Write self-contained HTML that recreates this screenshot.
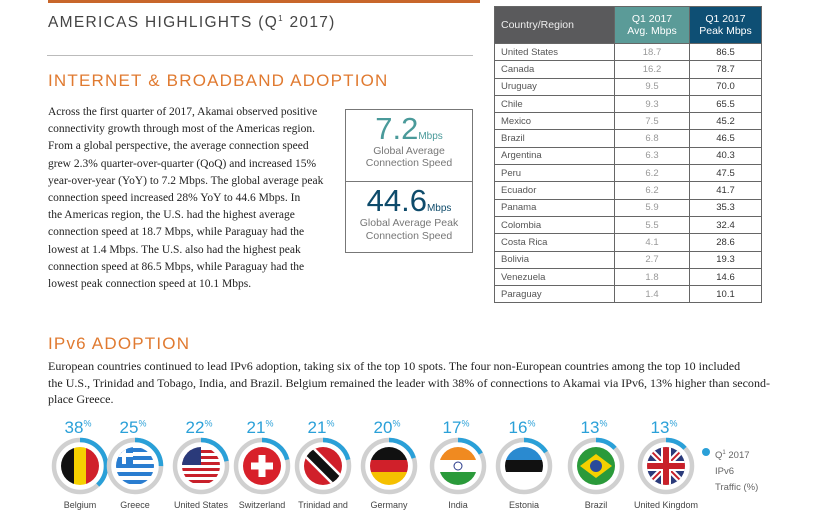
<!DOCTYPE html><html><head><style>
body{margin:0;width:815px;height:511px;overflow:hidden;background:#fff;font-family:"Liberation Sans",sans-serif;position:relative}
.a{position:absolute}
.body{font-family:"Liberation Serif",serif;font-size:11.5px;line-height:17.2px;color:#222;white-space:nowrap}
table{border-collapse:collapse;font-size:9.5px}
td{border:1px solid #666;height:16.3px;padding:0 6px;color:#555}
td.n{text-align:center;color:#999}td.p{text-align:center;color:#333}
.pct{font-size:17px;color:#2aa0d8;text-align:center;width:60px}
.pct sup{font-size:9px}
.lab{font-size:9px;color:#444;width:80px;text-align:center;font-family:"Liberation Sans Narrow","Liberation Sans",sans-serif}
</style></head><body>
<div class="a" style="left:48px;top:0;width:432px;height:3px;background:#c8662a"></div>
<div class="a" style="left:48px;top:14px;font-size:15.5px;letter-spacing:1.3px;color:#444">AMERICAS HIGHLIGHTS (Q<sup style="font-size:8px">1</sup> 2017)</div>
<div class="a" style="left:47px;top:55px;width:426px;height:1px;background:#bbb"></div>
<div class="a" style="left:48px;top:71px;font-size:17px;letter-spacing:1.2px;color:#e07a30">INTERNET &amp; BROADBAND ADOPTION</div>
<div class="a body" style="left:48px;top:104px">Across the first quarter of 2017, Akamai observed positive<br>connectivity growth through most of the Americas region.<br>From a global perspective, the average connection speed<br>grew 2.3% quarter-over-quarter (QoQ) and increased 15%<br>year-over-year (YoY) to 7.2 Mbps. The global average peak<br>connection speed increased 28% YoY to 44.6 Mbps. In<br>the Americas region, the U.S. had the highest average<br>connection speed at 18.7 Mbps, while Paraguay had the<br>lowest at 1.4 Mbps. The U.S. also had the highest peak<br>connection speed at 86.5 Mbps, while Paraguay had the<br>lowest peak connection speed at 10.1 Mbps.</div>
<div class="a" style="left:345px;top:109px;width:126px;height:142px;border:1px solid #777"></div>
<div class="a" style="left:345px;top:181px;width:127px;height:1px;background:#777"></div>
<div class="a" style="left:345px;top:113px;width:128px;text-align:center;color:#777;font-size:10.5px;line-height:12px"><span style="font-size:31px;color:#4a9a9a;line-height:32px">7.2</span><span style="color:#4a9a9a;font-size:10px">Mbps</span><br>Global Average<br>Connection Speed</div>
<div class="a" style="left:345px;top:185px;width:128px;text-align:center;color:#777;font-size:10.5px;line-height:12.5px"><span style="font-size:31px;color:#0e4b6b;line-height:32px">44.6</span><span style="color:#0e4b6b;font-size:10px">Mbps</span><br>Global Average Peak<br>Connection Speed</div>
<table class="a" style="left:494px;top:6px;width:268px">
<tr style="height:37px"><td style="background:#5a5a5c;color:#eee;font-size:10.5px;width:107px">Country/Region</td><td style="background:#5b9b98;color:#fff;text-align:center;font-size:10.5px;width:62px">Q1 2017<br>Avg. Mbps</td><td style="background:#0e4f74;color:#fff;text-align:center;font-size:10.5px">Q1 2017<br>Peak Mbps</td></tr>
<tr><td>United States</td><td class="n">18.7</td><td class="p">86.5</td></tr>
<tr><td>Canada</td><td class="n">16.2</td><td class="p">78.7</td></tr>
<tr><td>Uruguay</td><td class="n">9.5</td><td class="p">70.0</td></tr>
<tr><td>Chile</td><td class="n">9.3</td><td class="p">65.5</td></tr>
<tr><td>Mexico</td><td class="n">7.5</td><td class="p">45.2</td></tr>
<tr><td>Brazil</td><td class="n">6.8</td><td class="p">46.5</td></tr>
<tr><td>Argentina</td><td class="n">6.3</td><td class="p">40.3</td></tr>
<tr><td>Peru</td><td class="n">6.2</td><td class="p">47.5</td></tr>
<tr><td>Ecuador</td><td class="n">6.2</td><td class="p">41.7</td></tr>
<tr><td>Panama</td><td class="n">5.9</td><td class="p">35.3</td></tr>
<tr><td>Colombia</td><td class="n">5.5</td><td class="p">32.4</td></tr>
<tr><td>Costa Rica</td><td class="n">4.1</td><td class="p">28.6</td></tr>
<tr><td>Bolivia</td><td class="n">2.7</td><td class="p">19.3</td></tr>
<tr><td>Venezuela</td><td class="n">1.8</td><td class="p">14.6</td></tr>
<tr><td>Paraguay</td><td class="n">1.4</td><td class="p">10.1</td></tr>
</table>
<div class="a" style="left:48px;top:334px;font-size:17px;letter-spacing:1.2px;color:#e07a30">IPv6 ADOPTION</div>
<div class="a body" style="left:48px;top:359px;font-size:11.3px;line-height:16.5px;transform:scaleX(1.065);transform-origin:0 0">European countries continued to lead IPv6 adoption, taking six of the top 10 spots. The four non-European countries among the top 10 included<br>the U.S., Trinidad and Tobago, India, and Brazil. Belgium remained the leader with 38% of connections to Akamai via IPv6, 13% higher than second-<br>place Greece.</div>
<svg class="a" style="left:0;top:0" width="815" height="511">
<defs>
<clipPath id="c"><circle r="19"/></clipPath>
</defs>
<g id="flags"></g>
<circle cx="706" cy="452" r="4" fill="#2aa0d8"/>
</svg>
<div class="a" style="left:715px;top:445px;font-size:9.5px;color:#666;line-height:16px">Q<sup style="font-size:6px">1</sup> 2017<br>IPv6<br>Traffic (%)</div>
<script>
var d=[[80,38,"Belgium"],[135,25,"Greece"],[201,22,"United States"],[262,21,"Switzerland"],[323,21,"Trinidad and"],[389,20,"Germany"],[458,17,"India"],[524,16,"Estonia"],[596,13,"Brazil"],[666,13,"United Kingdom"]];
var flags={
Belgium:'<rect x="-20" y="-20" width="14" height="40" fill="#111"/><rect x="-6" y="-20" width="12" height="40" fill="#f5d000"/><rect x="6" y="-20" width="14" height="40" fill="#d0202a"/>',
Greece:'<rect x="-20" y="-20" width="40" height="40" fill="#fff"/><g fill="#2a7dd0"><rect x="-20" y="-18" width="40" height="4"/><rect x="-20" y="-10" width="40" height="4"/><rect x="-20" y="-2" width="40" height="4"/><rect x="-20" y="6" width="40" height="4"/><rect x="-20" y="14" width="40" height="4"/><rect x="-20" y="-20" width="18" height="18"/></g><rect x="-13" y="-20" width="4" height="18" fill="#fff"/><rect x="-20" y="-13" width="18" height="4" fill="#fff"/>',
"United States":'<rect x="-20" y="-20" width="40" height="40" fill="#fff"/><g fill="#c8202a"><rect x="-20" y="-16" width="40" height="3"/><rect x="-20" y="-10" width="40" height="3"/><rect x="-20" y="-4" width="40" height="3"/><rect x="-20" y="2" width="40" height="3"/><rect x="-20" y="8" width="40" height="3"/><rect x="-20" y="14" width="40" height="3"/></g><rect x="-20" y="-20" width="20" height="19" fill="#2a3a7a"/>',
Switzerland:'<rect x="-20" y="-20" width="40" height="40" fill="#d8202a"/><rect x="-3.5" y="-11" width="7" height="22" fill="#fff"/><rect x="-11" y="-3.5" width="22" height="7" fill="#fff"/>',
"Trinidad and":'<rect x="-20" y="-20" width="40" height="40" fill="#d0202a"/><line x1="-20" y1="-20" x2="20" y2="20" stroke="#fff" stroke-width="14"/><line x1="-20" y1="-20" x2="20" y2="20" stroke="#111" stroke-width="9"/>',
Germany:'<rect x="-20" y="-20" width="40" height="14" fill="#111"/><rect x="-20" y="-6" width="40" height="12" fill="#d0202a"/><rect x="-20" y="6" width="40" height="14" fill="#f5c000"/>',
India:'<rect x="-20" y="-20" width="40" height="14" fill="#f08a20"/><rect x="-20" y="-6" width="40" height="12" fill="#fff"/><rect x="-20" y="6" width="40" height="14" fill="#2a9a3a"/><circle r="4" fill="none" stroke="#2a3a8a"/>',
Estonia:'<rect x="-20" y="-20" width="40" height="14" fill="#2a8ad0"/><rect x="-20" y="-6" width="40" height="12" fill="#111"/><rect x="-20" y="6" width="40" height="14" fill="#fff"/>',
Brazil:'<rect x="-20" y="-20" width="40" height="40" fill="#2a9a3a"/><polygon points="-16,0 0,-12 16,0 0,12" fill="#f5d000"/><circle r="6" fill="#2a4a9a"/>',
"United Kingdom":'<rect x="-20" y="-20" width="40" height="40" fill="#2a3a7a"/><line x1="-20" y1="-20" x2="20" y2="20" stroke="#fff" stroke-width="6"/><line x1="20" y1="-20" x2="-20" y2="20" stroke="#fff" stroke-width="6"/><line x1="-20" y1="-20" x2="20" y2="20" stroke="#c8202a" stroke-width="2"/><line x1="20" y1="-20" x2="-20" y2="20" stroke="#c8202a" stroke-width="2"/><rect x="-20" y="-5" width="40" height="10" fill="#fff"/><rect x="-5" y="-20" width="10" height="40" fill="#fff"/><rect x="-20" y="-3" width="40" height="6" fill="#c8202a"/><rect x="-3" y="-20" width="6" height="40" fill="#c8202a"/>'};
var s="",h="",cy=466,R=26,C=2*Math.PI*R;
d.forEach(function(e){var x=e[0];
s+='<circle cx="'+x+'" cy="'+cy+'" r="'+R+'" fill="none" stroke="#d0d0d0" stroke-width="4.5"/>';
s+='<circle cx="'+x+'" cy="'+cy+'" r="'+R+'" fill="none" stroke="#2aa0d8" stroke-width="4.5" stroke-dasharray="'+(C*e[1]/100)+' '+C+'" transform="rotate(-90 '+x+' '+cy+')"/>';
s+='<g transform="translate('+x+','+cy+')" clip-path="url(#c)">'+flags[e[2]]+'</g>';
h+='<div class="a pct" style="left:'+(x-32)+'px;top:418px">'+e[1]+'<sup>%</sup></div>';
h+='<div class="a lab" style="left:'+(x-40)+'px;top:500px">'+e[2]+'</div>';});
document.getElementById("flags").innerHTML=s;
document.body.insertAdjacentHTML("beforeend",h);
</script>
</body></html>
